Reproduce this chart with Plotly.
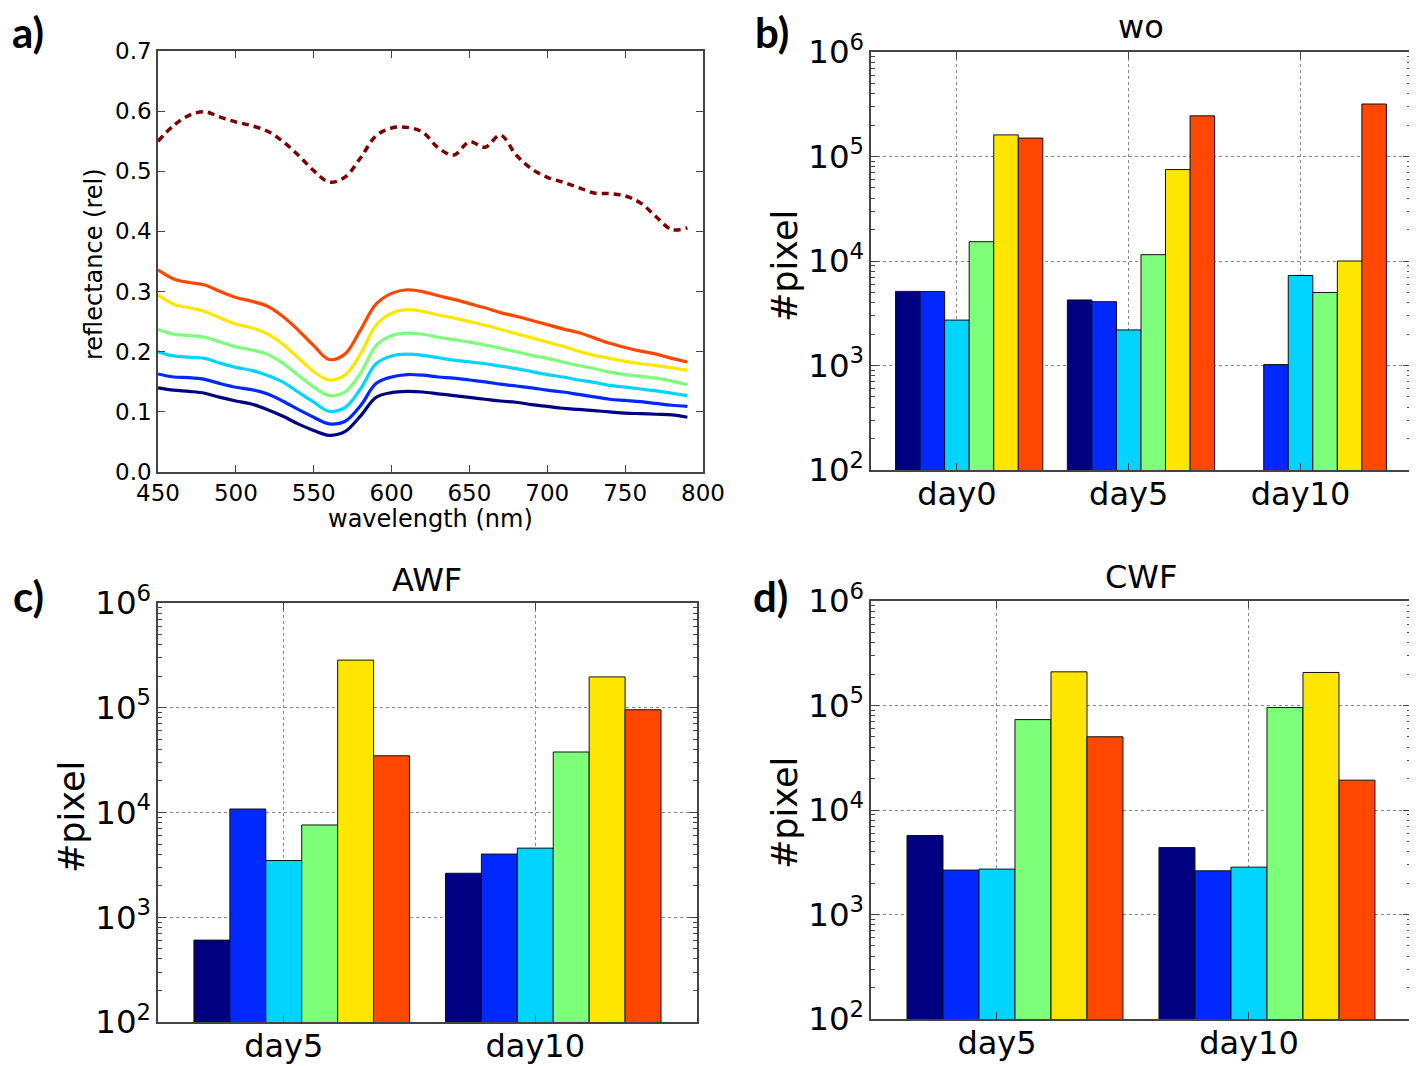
import plotly.graph_objects as go

W, H = 1417, 1066
OFF = 8  # the page body margin puts the plot 8px in from the window corner

# ---- panel a: reflectance spectra ----
wavelength = [450, 460, 470, 480, 490, 500, 510, 520, 530, 540, 550, 560, 570, 580,
              590, 600, 610, 620, 630, 640, 650, 660, 670, 680, 690, 700, 710, 720,
              730, 740, 750, 760, 770, 780, 790]

refl_navy = [0.140, 0.136, 0.134, 0.131, 0.124, 0.118, 0.113, 0.104, 0.093, 0.080, 0.069, 0.061,
             0.067, 0.093, 0.124, 0.132, 0.134, 0.133, 0.130, 0.127, 0.124, 0.121, 0.118, 0.116,
             0.112, 0.109, 0.106, 0.104, 0.102, 0.100, 0.098, 0.097, 0.096, 0.095, 0.091]
refl_blue = [0.163, 0.158, 0.157, 0.154, 0.147, 0.141, 0.137, 0.130, 0.118, 0.104, 0.091, 0.080,
             0.084, 0.110, 0.147, 0.158, 0.162, 0.161, 0.158, 0.156, 0.153, 0.150, 0.146, 0.143,
             0.140, 0.136, 0.133, 0.129, 0.125, 0.121, 0.119, 0.117, 0.114, 0.111, 0.109]
refl_cyan = [0.200, 0.193, 0.191, 0.189, 0.181, 0.174, 0.169, 0.161, 0.150, 0.133, 0.116, 0.101,
             0.107, 0.138, 0.180, 0.193, 0.196, 0.194, 0.190, 0.186, 0.183, 0.180, 0.176, 0.172,
             0.167, 0.162, 0.158, 0.153, 0.149, 0.144, 0.141, 0.138, 0.135, 0.131, 0.127]
refl_green = [0.237, 0.229, 0.227, 0.224, 0.216, 0.208, 0.203, 0.196, 0.181, 0.161, 0.141, 0.127,
              0.133, 0.164, 0.210, 0.227, 0.231, 0.229, 0.224, 0.220, 0.216, 0.211, 0.206, 0.200,
              0.194, 0.189, 0.183, 0.177, 0.172, 0.166, 0.162, 0.159, 0.156, 0.151, 0.145]
refl_yellow = [0.294, 0.279, 0.273, 0.267, 0.256, 0.246, 0.240, 0.230, 0.213, 0.190, 0.167, 0.153,
               0.161, 0.196, 0.244, 0.264, 0.270, 0.267, 0.261, 0.256, 0.250, 0.244, 0.237, 0.230,
               0.223, 0.216, 0.209, 0.201, 0.194, 0.189, 0.184, 0.180, 0.177, 0.173, 0.169]
refl_red = [0.336, 0.321, 0.315, 0.311, 0.300, 0.290, 0.284, 0.276, 0.259, 0.236, 0.210, 0.187,
            0.196, 0.236, 0.279, 0.297, 0.303, 0.300, 0.293, 0.287, 0.280, 0.273, 0.265, 0.259,
            0.252, 0.245, 0.238, 0.232, 0.223, 0.214, 0.207, 0.201, 0.196, 0.189, 0.183]
refl_dashed = [0.550, 0.576, 0.593, 0.599, 0.590, 0.582, 0.576, 0.567, 0.550, 0.527, 0.501, 0.482,
               0.490, 0.522, 0.559, 0.572, 0.573, 0.565, 0.539, 0.527, 0.549, 0.540, 0.560, 0.527,
               0.504, 0.490, 0.482, 0.473, 0.464, 0.463, 0.459, 0.447, 0.424, 0.403, 0.406]

class_colors = ["#000080", "#0028ff", "#00d4ff", "#7dff7a", "#ffe600", "#ff4700"]
dashed_color = "#7f0000"

# ---- panels b, c, d: pixel counts per class (rows = colour class) ----
wo_days = ["day0", "day5", "day10"]
wo_counts = [
    [5120, 4240, None],
    [5100, 4080, 1020],
    [2720, 2190, 7260],
    [15300, 11500, 5000],
    [161000, 75000, 10000],
    [150000, 245000, 318000],
]

awf_days = ["day5", "day10"]
awf_counts = [
    [605, 2630],
    [10800, 4010],
    [3480, 4570],
    [7600, 37800],
    [285000, 197000],
    [34800, 95700],
]

cwf_days = ["day5", "day10"]
cwf_counts = [
    [5700, 4370],
    [2660, 2620],
    [2720, 2840],
    [73300, 95700],
    [210000, 207000],
    [50200, 19300],
]

FW, FH = W - OFF, H - OFF


def px_x(x):
    return (x - OFF) / FW


def px_y(y):
    return 1 - (y - OFF) / FH


FONT = "DejaVu Sans"
AXCOL = "#444444"
BAR_W = 1 / 7

fig = go.Figure()

# panel a lines
for vals, col in zip([refl_navy, refl_blue, refl_cyan, refl_green, refl_yellow, refl_red],
                     class_colors):
    fig.add_trace(go.Scatter(x=wavelength, y=vals, mode="lines",
                             line=dict(color=col, width=3.2, shape="spline"),
                             xaxis="x", yaxis="y", showlegend=False))
fig.add_trace(go.Scatter(x=wavelength, y=refl_dashed, mode="lines",
                         line=dict(color=dashed_color, width=3.5, dash="7px,5px", shape="spline"),
                         xaxis="x", yaxis="y", showlegend=False))

# bar panels
panels = [("x2", "y2", wo_days, wo_counts),
          ("x3", "y3", awf_days, awf_counts),
          ("x4", "y4", cwf_days, cwf_counts)]
for xa, ya, days, counts in panels:
    pos = list(range(len(days)))
    for i, vals in enumerate(counts):
        fig.add_trace(go.Bar(x=pos, y=vals, width=BAR_W, offset=(i - 2.5) * BAR_W,
                             marker=dict(color=class_colors[i], line=dict(color="#111111", width=1)),
                             xaxis=xa, yaxis=ya, showlegend=False))

axis_common = dict(showline=True, linecolor=AXCOL, linewidth=1.5, mirror="allticks",
                   ticks="inside", tickcolor=AXCOL, zeroline=False, automargin=False)

boxes = {
    "a": (158, 703, 51, 472),
    "b": (871, 1411, 52, 470),
    "c": (158, 697, 603, 1022),
    "d": (871, 1411, 601, 1019),
}


def dom(box):
    x0, x1, y0, y1 = box
    return [px_x(x0), px_x(x1)], [px_y(y1), px_y(y0)]


layout = dict(width=FW, height=FH, margin=dict(l=0, r=0, t=0, b=0),
              paper_bgcolor="white", plot_bgcolor="white",
              barmode="overlay", font=dict(family=FONT, color="black"))

xd, yd = dom(boxes["a"])
layout["xaxis"] = dict(domain=xd, anchor="y", range=[450, 800], dtick=50, tick0=450,
                       showgrid=False, ticklen=7, tickfont=dict(size=23), **axis_common)
layout["yaxis"] = dict(domain=yd, anchor="x", range=[0, 0.7], dtick=0.1, tickformat=".1f",
                       showgrid=False, ticklen=7, tickfont=dict(size=23), **axis_common)

for n, key, days in [(2, "b", wo_days), (3, "c", awf_days), (4, "d", cwf_days)]:
    xd, yd = dom(boxes[key])
    layout[f"xaxis{n}"] = dict(domain=xd, anchor=f"y{n}", range=[-0.5, len(days) - 1 + 0.643],
                               tickvals=list(range(len(days))), ticktext=days,
                               showgrid=True, gridcolor="#888888", griddash="dot", gridwidth=1,
                               ticklen=7, tickfont=dict(size=32), ticklabelstandoff=-5,
                               **axis_common)
    layout[f"yaxis{n}"] = dict(domain=yd, anchor=f"x{n}", type="log", range=[2, 6], dtick=1,
                               exponentformat="power", showexponent="all",
                               showgrid=True, gridcolor="#888888", griddash="dot", gridwidth=1,
                               ticklen=8, tickfont=dict(size=26),
                               minor=dict(ticks="inside", ticklen=4, tickcolor=AXCOL, showgrid=False),
                               **axis_common)

annotations = []


def add_text(text, x, y, size, angle=0, family=FONT):
    annotations.append(dict(text=text, x=px_x(x), y=px_y(y), xref="paper", yref="paper",
                            showarrow=False, xanchor="center", yanchor="middle",
                            textangle=angle, font=dict(size=size, family=family, color="black")))


# panel letters
add_text("<b>a)</b>", 28, 32, 42, family="Lato")
add_text("<b>b)</b>", 772, 32, 42, family="Lato")
add_text("<b>c)</b>", 28, 596, 42, family="Lato")
add_text("<b>d)</b>", 771, 596, 42, family="Lato")

# titles
add_text("wo", 1141, 27, 32)
add_text("AWF", 427, 580, 32)
add_text("CWF", 1141, 577, 32)

# axis titles
add_text("reflectance (rel)", 94, 264, 24, angle=-90)
add_text("wavelength (nm)", 430, 519, 24)
add_text("#pixel", 785, 266, 35, angle=-90)
add_text("#pixel", 72, 817, 35, angle=-90)
add_text("#pixel", 785, 813, 35, angle=-90)

layout["annotations"] = annotations
fig.update_layout(**layout)

fig.write_html("out.html")
